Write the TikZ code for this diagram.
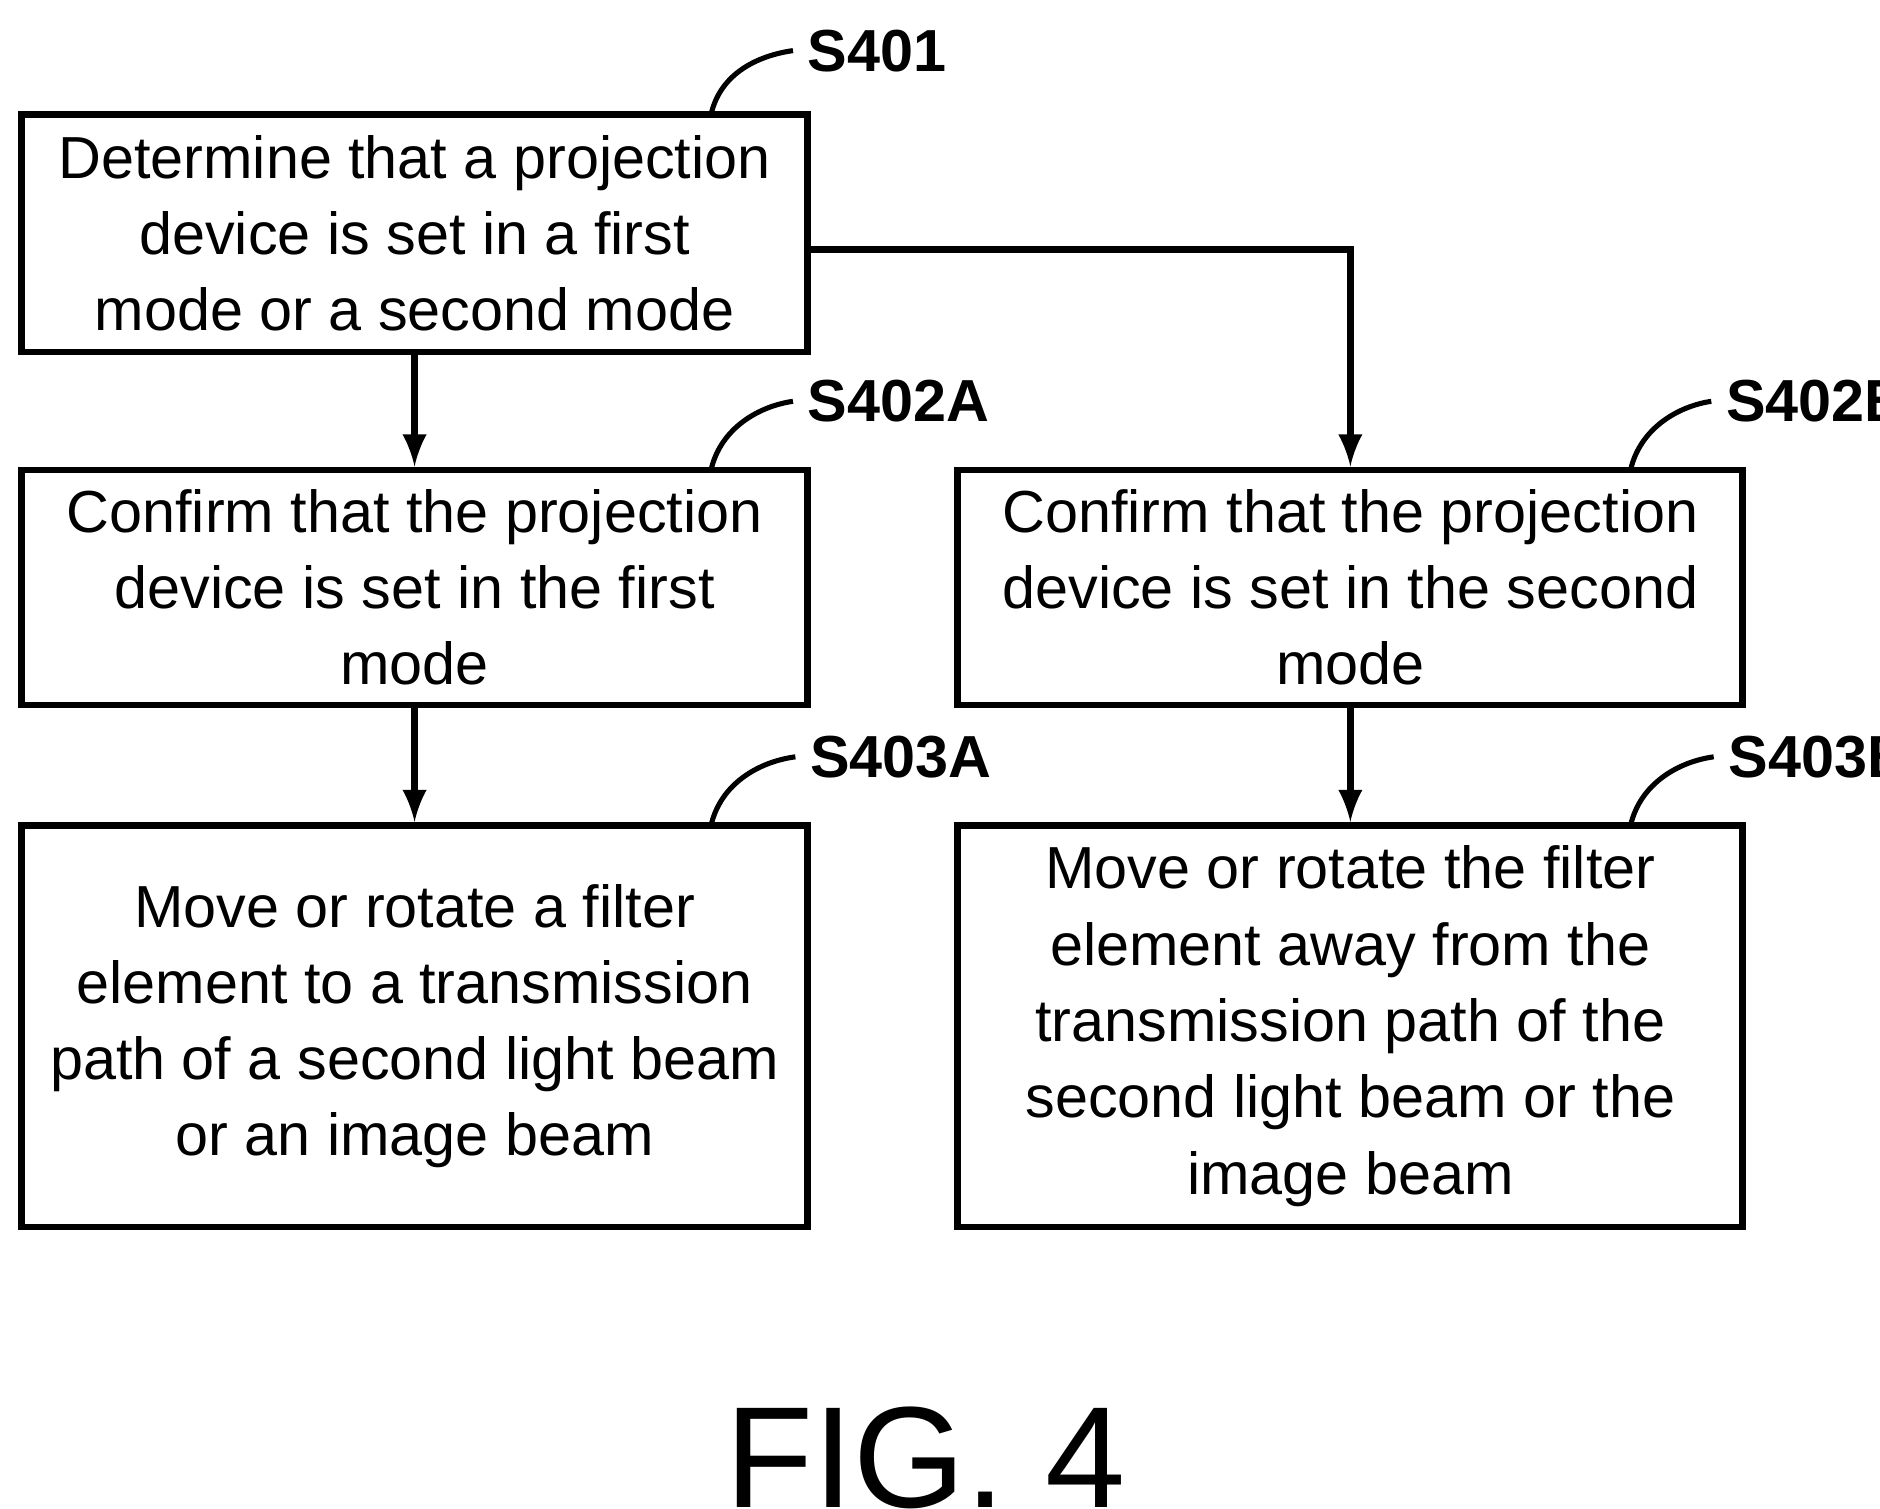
\documentclass[tikz,border=0pt]{standalone}
\usepackage{fontspec}
\setmainfont{Liberation Sans}
\begin{document}
\begin{tikzpicture}[x=0.01cm, y=-0.01cm, >=latex,
  stepbox/.style={draw, line width=1.6pt, align=center, inner sep=0pt,
    font=\fontsize{14}{18}\selectfont},
  flow/.style={->, line width=1.6pt},
  tag/.style={font=\bfseries\fontsize{14}{16}\selectfont},
  lead/.style={line width=1.2pt}]

  \useasboundingbox (0,0) rectangle (1560,1252);

  % boxes
  \node[stepbox, minimum width=6.52cm, minimum height=1.97cm] (s401) at (344,193.5)
    {Determine that a projection\\device is set in a first\\mode or a second mode};
  \node[stepbox, minimum width=6.52cm, minimum height=1.95cm] (s402a) at (344,487.5)
    {Confirm that the projection\\device is set in the first\\mode};
  \node[stepbox, minimum width=6.51cm, minimum height=1.95cm] (s402b) at (1120.5,487.5)
    {Confirm that the projection\\device is set in the second\\mode};
  \node[stepbox, minimum width=6.52cm, minimum height=3.33cm] (s403a) at (344,851.5)
    {Move or rotate a filter\\element to a transmission\\path of a second light beam\\or an image beam};
  \node[stepbox, minimum width=6.51cm, minimum height=3.33cm] (s403b) at (1120.5,851.5)
    {Move or rotate the filter\\element away from the\\transmission path of the\\second light beam or the\\image beam};

  % arrows
  \draw[flow] (s401) -- (s402a);
  \draw[flow] (s401.east |- 0,207) -| (s402b.north);
  \draw[flow] (s402a) -- (s403a);
  \draw[flow] (s402b) -- (s403b);

  % step labels
  \node[tag, anchor=west] (l401) at (658,42) {S401};
  \node[tag, anchor=west] (l402a) at (658,333) {S402A};
  \node[tag, anchor=west] (l402b) at (1420,333) {S402B};
  \node[tag, anchor=west] (l403a) at (660,628) {S403A};
  \node[tag, anchor=west] (l403b) at (1422,628) {S403B};
  \draw[lead] (590,95) .. controls (598,60) and (630,46) .. (l401.west);
  \draw[lead] (590,390) .. controls (598,355) and (630,337) .. (l402a.west);
  \draw[lead] (1353,390) .. controls (1361,355) and (1393,337) .. (l402b.west);
  \draw[lead] (590,685) .. controls (598,650) and (630,632) .. (l403a.west);
  \draw[lead] (1353,685) .. controls (1361,650) and (1393,632) .. (l403b.west);

  \node[font=\fontsize{34}{38}\selectfont] (fig) at (768,1210) {FIG.\ 4};
\end{tikzpicture}
\end{document}
